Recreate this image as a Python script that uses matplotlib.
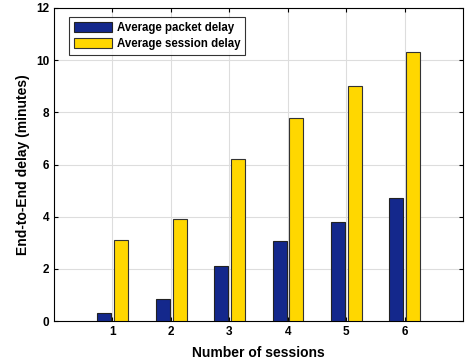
import matplotlib
matplotlib.use("Agg")
import matplotlib.pyplot as plt
import numpy as np

sessions = [1, 2, 3, 4, 5, 6]
packet_delay = [0.32, 0.85, 2.12, 3.05, 3.78, 4.70]
session_delay = [3.10, 3.90, 6.20, 7.80, 9.00, 10.30]
yticks = [0, 2, 4, 6, 8, 10, 12]

plt.rcParams['font.family'] = ['Liberation Sans', 'DejaVu Sans']
plt.rcParams['font.weight'] = 'bold'

fig = plt.figure(figsize=(4.65, 3.64), dpi=100)
ax = fig.add_axes([54/465, 1 - 321/364, (463-54)/465, (321-8)/364])

x = np.array(sessions, dtype=float)
w = 0.24
ax.bar(x - 0.14, packet_delay, width=w, color='#14288C', edgecolor='#222222', linewidth=0.8, label='Average packet delay', zorder=3)
ax.bar(x + 0.15, session_delay, width=w, color='#FFD700', edgecolor='#333333', linewidth=0.8, label='Average session delay', zorder=3)

ax.set_xlim(0, 7)
ax.set_ylim(0, 12)
ax.set_xticks(sessions)
ax.set_yticks(yticks)
ax.tick_params(direction='in', top=True, right=True, labelsize=8.5, length=3, width=0.8)
for lab in ax.get_xticklabels() + ax.get_yticklabels():
    lab.set_fontweight('bold')
ax.grid(True, color='#dddddd', linewidth=0.8, zorder=0)
ax.set_axisbelow(True)
for s in ax.spines.values():
    s.set_linewidth(0.8)
ax.set_xlabel('Number of sessions', fontsize=10, fontweight='bold', labelpad=6)
ax.set_ylabel('End-to-End delay (minutes)', fontsize=10, fontweight='bold', labelpad=4)

leg = ax.legend(loc='upper left', bbox_to_anchor=(0.037, 0.971), borderaxespad=0, fontsize=8.3, frameon=True, fancybox=False,
                edgecolor='black', handlelength=3.3, handleheight=0.95, borderpad=0.42, labelspacing=0.38, handletextpad=0.4)
leg.get_frame().set_linewidth(0.8)
for t in leg.get_texts():
    t.set_fontweight('bold')

fig.savefig('out.png', dpi=100)
